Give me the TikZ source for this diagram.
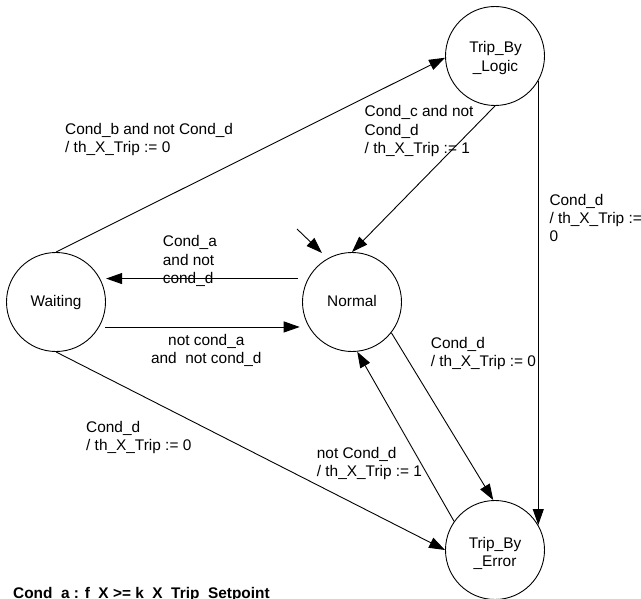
\documentclass[tikz,border=0pt]{standalone}
\usepackage{fontspec}
\setmainfont{Liberation Sans}
\usetikzlibrary{arrows.meta}
\begin{document}
\begin{tikzpicture}[x=1bp,y=-1bp,
  every node/.style={font=\fontsize{15.4bp}{18.4bp}\selectfont},
  state/.style={draw, circle, minimum size=99bp, inner sep=0pt, line width=0.9bp},
  sname/.style={inner sep=0pt, align=center, anchor=base},
  trans/.style={line width=0.9bp, -{Triangle[length=16bp,width=11bp]}},
  % the base anchor of a multi-line node sits on its last line
  lbl/.style={inner sep=0pt, align=left, anchor=base west},
]
\useasboundingbox (0,0) rectangle (641,599);
\clip (0,0) rectangle (641,599);
\fill[white] (0,0) rectangle (641,599);

% states
\node[state] (W) at (56,302) {};
\node[state] (N) at (352,302) {};
\node[state] (L) at (495,56) {};
\node[state] (E) at (495,550) {};
\node[sname] (Wname) at (56,306.5) {Waiting};
\node[sname] (Nname) at (352,306.7) {Normal};
\node[sname] (Lname) at (495.5,71.1) {Trip\_By\\\_Logic};
\node[sname] (Ename) at (495,566.7) {Trip\_By\\\_Error};

% initial transition
\coordinate (init) at (297,229);
\coordinate (initEnd) at (322,253);
\draw[trans] (init) -- (initEnd);

% transitions
\draw[trans] (W.north) -- (L.182);
\draw[trans] (L.south) -- (N.north);
\draw[trans, shorten <=10bp, shorten >=6bp] (N.152) -- (W.28);
\draw[trans, shorten <=6bp, shorten >=9bp] (W.-30) -- (N.210);
\draw[trans] (W.south) -- (E.west);
\draw[trans] (N.-38) -- (E.92);
\draw[trans] (E.145) -- (N.276);
\draw[trans] (L.-30) -- (E.30);

% transition labels (placed by the baseline of their last line)
\node[lbl] (lb1) at (65,152.9) {Cond\_b and not Cond\_d\\/ th\_X\_Trip := 0};
\node[lbl] (lb2) at (364.5,153.5) {Cond\_c and not\\Cond\_d\\/ th\_X\_Trip := 1};
\node[lbl] (lb3) at (549.3,241.8) {Cond\_d\\/ th\_X\_Trip :=\\0};
\node[lbl] (lb4) at (162.7,283.5) {Cond\_a\\and not\\cond\_d};
\node[lbl, align=center, anchor=base] (lb5) at (206.3,363.4) {not cond\_a\\and\ \ not cond\_d};
\node[lbl] (lb6) at (86,450.4) {Cond\_d\\/ th\_X\_Trip := 0};
\node[lbl] (lb7) at (430.7,366.7) {Cond\_d\\/ th\_X\_Trip := 0};
\node[lbl] (lb8) at (316.7,476.7) {not Cond\_d\\/ th\_X\_Trip := 1};

% condition legend
\node[lbl, font=\fontsize{15.4bp}{18.4bp}\selectfont\bfseries] (legend) at (13,598.5) {Cond\_a : f\_X >= k\_X\_Trip\_Setpoint};
\end{tikzpicture}
\end{document}
